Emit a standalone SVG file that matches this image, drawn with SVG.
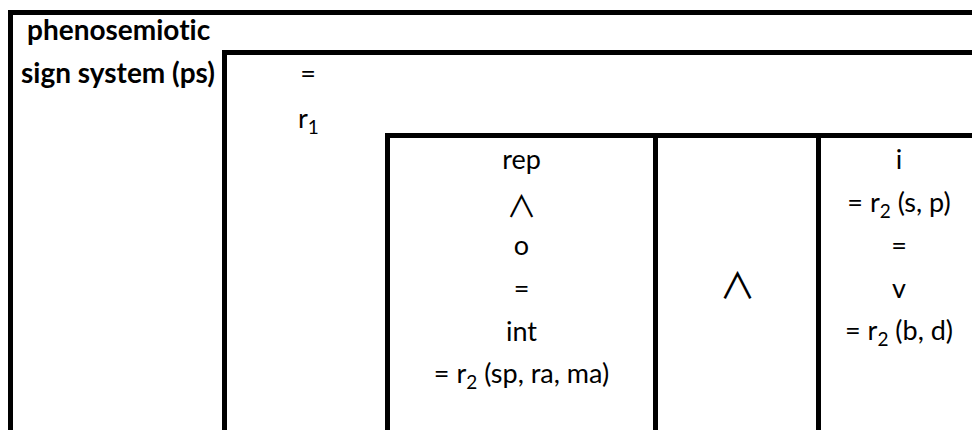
<svg xmlns="http://www.w3.org/2000/svg" width="972" height="430" viewBox="0 0 972 430">
<style>
.box{fill:none;stroke:#000;stroke-width:5}
text{font-family:Lato,"Open Sans","Liberation Sans",sans-serif;fill:#000;font-size:27px;font-variant-ligatures:none}
.b{font-weight:bold;font-size:28px}
.c{text-anchor:middle}
.sub{font-size:19px}
.op{font-family:"Noto Sans CJK SC","DejaVu Sans",sans-serif;font-size:30px;font-weight:normal}
.op2{font-family:"Noto Sans CJK SC","DejaVu Sans",sans-serif;font-size:36px;font-weight:normal}
</style>
<rect width="972" height="430" fill="#fff"/>
<g id="ps">
<path class="box" d="M980 12.5H10.5V440"/>
<text class="b" x="27" y="40">phenosemiotic</text>
<text class="b" x="21" y="83">sign system (ps)</text>
</g>
<g id="r1">
<path class="box" d="M980 52.5H224.5V440"/>
<text class="c" x="308" y="83">=</text>
<text x="298" y="128">r<tspan class="sub" dy="6">1</tspan></text>
</g>
<g id="inner">
<path class="box" d="M980 135.5H387.5V440M655.5 135.5V440M818.5 135.5V440"/>
</g>
<g id="rep">
<text class="c" x="521.5" y="169">rep</text>
<text class="c op" x="521.5" y="217">∧</text>
<text class="c" x="521.5" y="255">o</text>
<text class="c" x="521.5" y="298">=</text>
<text class="c" x="521.5" y="341">int</text>
<text class="c" x="521.5" y="383">= r<tspan class="sub" dy="6">2</tspan><tspan dy="-6"> (sp, ra, ma)</tspan></text>
</g>
<g id="and">
<text class="c op2" x="737.5" y="299">∧</text>
</g>
<g id="iv">
<text class="c" x="899" y="169">i</text>
<text class="c" x="899" y="212">= r<tspan class="sub" dy="6">2</tspan><tspan dy="-6"> (s, p)</tspan></text>
<text class="c" x="899" y="255">=</text>
<text class="c" x="899" y="298">v</text>
<text class="c" x="899" y="340">= r<tspan class="sub" dy="6">2</tspan><tspan dy="-6"> (b, d)</tspan></text>
</g>
<g id="connectors"></g>
</svg>
